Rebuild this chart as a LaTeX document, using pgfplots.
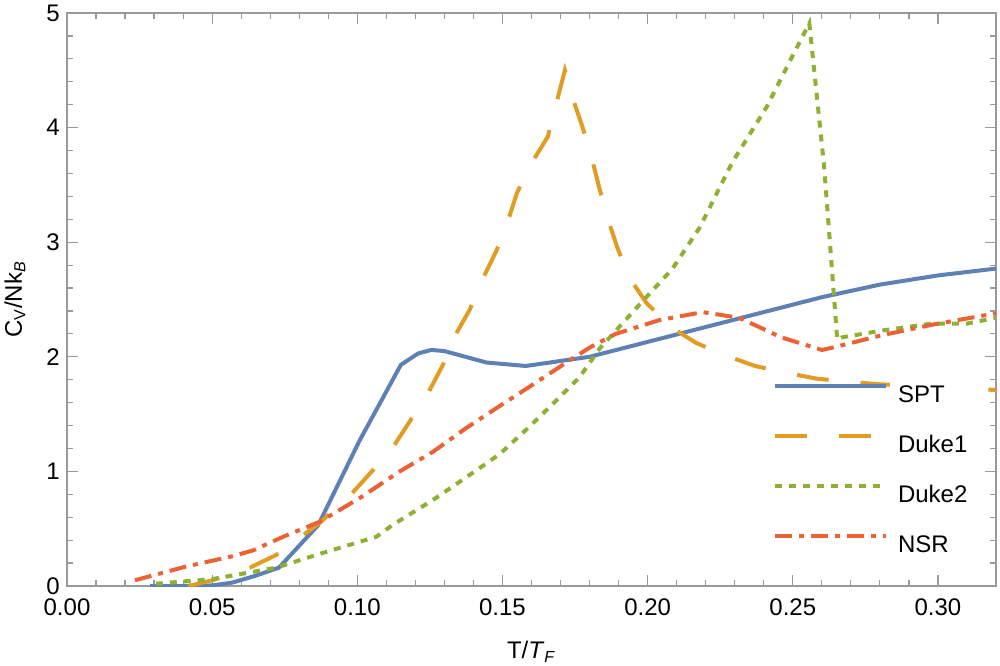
\documentclass[border=0pt]{standalone}
\usepackage{fontspec}
\setmainfont{Liberation Sans}
\usepackage{pgfplots}
\pgfplotsset{compat=1.18}

\definecolor{cSPT}{HTML}{5E81B5}
\definecolor{cDukeA}{HTML}{E19C24}
\definecolor{cDukeB}{HTML}{8FB032}
\definecolor{cNSR}{HTML}{EB6235}
\definecolor{frame}{HTML}{9A9A9A}

\setlength{\fboxsep}{3pt}
% white patch behind legend text, hides the Duke1 line under "SPT"
\newcommand{\legtxt}[1]{\colorbox{white}{\hspace{1pt}\makebox[39pt][l]{#1}}}

\begin{document}
\begin{tikzpicture}
\begin{axis}[
    scale only axis,
    width=464.5pt, height=286.5pt,
    xmin=0, xmax=0.32,
    ymin=0, ymax=5,
    xtick={0,0.05,0.10,0.15,0.20,0.25,0.30},
    ytick={0,1,2,3,4,5},
    minor x tick num=4,
    minor y tick num=4,
    tick align=inside,
    major tick length=5.5pt,
    minor tick length=3pt,
    axis line style={frame, line width=0.6pt},
    every tick/.style={frame, line width=0.6pt},
    /pgf/number format/assume math mode=true,
    ticklabel style={font=\fontsize{12}{14}\selectfont},
    yticklabel style={inner sep=2pt, xshift=-1.5pt},
    xticklabel style={inner sep=2pt, yshift=-4pt, /pgf/number format/fixed,
        /pgf/number format/fixed zerofill, /pgf/number format/precision=2},
    xlabel={T/\textit{T}\textsubscript{\textit{F}}},
    ylabel={C\textsubscript{V}/Nk\textsubscript{\textit{B}}},
    xlabel style={at={(rel axis cs:0.5,0)}, anchor=center, yshift=-33pt, font=\fontsize{12}{14}\selectfont},
    ylabel style={at={(rel axis cs:0,0.5)}, anchor=center, yshift=26pt, font=\fontsize{12}{14}\selectfont},
    legend image code/.code={\draw[#1] (0pt,4.25pt) -- (55.5pt,4.25pt);},
    legend style={at={(rel axis cs:0.760,0.3534)}, anchor=north west,
        draw=none, fill=none, inner sep=0pt, outer sep=0pt,
        row sep=15.5pt, column sep=1pt,
        nodes={inner sep=0pt, text height=8.5pt, text depth=0pt,
               font=\fontsize{12}{14}\selectfont}},
    legend cell align=left,
]

% SPT
\addplot[cSPT, line width=2pt] coordinates {
    (0.0286,0) (0.04,0) (0.05,0.005) (0.057,0.03) (0.065,0.09) (0.073,0.16)
    (0.0865,0.53) (0.1008,1.27) (0.115,1.93) (0.121,2.03) (0.1255,2.06)
    (0.130,2.05) (0.1445,1.95) (0.158,1.92) (0.18,2.0) (0.2,2.13) (0.22,2.26)
    (0.24,2.39) (0.26,2.52) (0.28,2.63) (0.30,2.71) (0.32,2.77)
};
\addlegendentry{\legtxt{SPT}}

% Duke1
\addplot[cDukeA, line width=2pt, dash pattern=on 16pt off 16pt] coordinates {
    (0.0418,0) (0.05,0.05) (0.063,0.16) (0.072,0.27) (0.087,0.55) (0.0975,0.79)
    (0.105,1.0) (0.112,1.2) (0.1243,1.68) (0.1295,1.93) (0.134,2.2) (0.1387,2.41)
    (0.143,2.67) (0.148,2.93) (0.1518,3.18) (0.155,3.43) (0.160,3.69) (0.1656,3.92)
    (0.1715,4.5) (0.174,4.27) (0.1775,4.01) (0.1806,3.75) (0.1834,3.47)
    (0.1862,3.21) (0.1896,2.95) (0.1937,2.69) (0.1996,2.47) (0.208,2.26)
    (0.2168,2.12) (0.227,2.01) (0.237,1.92) (0.248,1.86) (0.258,1.81)
    (0.27,1.78) (0.28,1.76) (0.30,1.74) (0.32,1.71)
};
\addlegendentry{\legtxt{Duke1}}

% Duke2
\addplot[cDukeB, line width=2pt, dash pattern=on 3.5pt off 3.5pt] coordinates {
    (0.0306,0.02) (0.05,0.06) (0.072,0.16) (0.087,0.28) (0.1066,0.43) (0.112,0.53)
    (0.126,0.75) (0.1376,0.95) (0.149,1.15) (0.158,1.36) (0.167,1.58)
    (0.1765,1.82) (0.1834,2.07) (0.197,2.45) (0.2086,2.77) (0.218,3.13)
    (0.229,3.69) (0.241,4.18) (0.25,4.63) (0.2557,4.91) (0.2608,3.66)
    (0.263,2.93) (0.2653,2.15) (0.267,2.17) (0.281,2.23) (0.298,2.29)
    (0.31,2.29) (0.32,2.34)
};
\addlegendentry{\legtxt{Duke2}}

% NSR
\addplot[cNSR, line width=2pt, dash pattern=on 8.5pt off 3.5pt on 2.5pt off 3.5pt] coordinates {
    (0.0234,0.05) (0.041,0.17) (0.057,0.26) (0.064,0.31) (0.0745,0.43)
    (0.087,0.56) (0.101,0.77) (0.1146,1.0) (0.126,1.17) (0.1376,1.38)
    (0.149,1.57) (0.160,1.75) (0.172,1.95) (0.18,2.08) (0.189,2.2)
    (0.204,2.32) (0.219,2.39) (0.2316,2.34) (0.246,2.17) (0.26,2.06)
    (0.2637,2.08) (0.281,2.19) (0.298,2.28) (0.32,2.38)
};
\addlegendentry{\legtxt{NSR}}

\coordinate (bl) at (rel axis cs:0,0);
\coordinate (tr) at (rel axis cs:1,1);
\end{axis}
\pgfresetboundingbox
\path[use as bounding box] ([shift={(-33.5pt,-39.5pt)}]bl) rectangle ([shift={(2pt,6.5pt)}]tr);
\end{tikzpicture}
\end{document}
